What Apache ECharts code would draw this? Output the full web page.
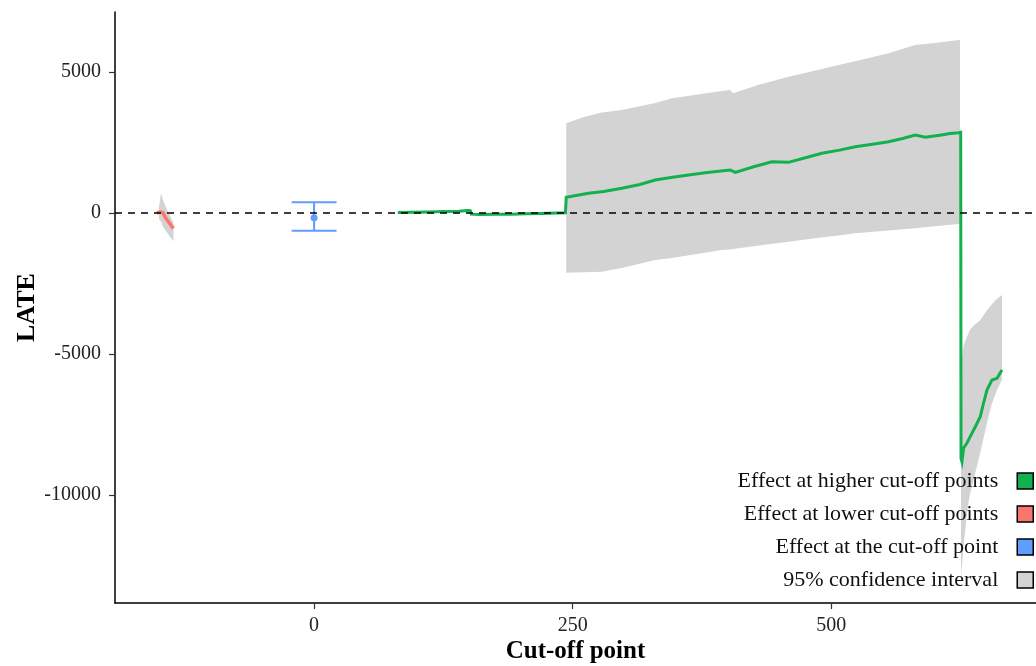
<!DOCTYPE html>
<html>
<head>
<meta charset="utf-8">
<script src="https://cdn.jsdelivr.net/npm/echarts@6/dist/echarts.min.js"></script>
<style>
html,body{margin:0;padding:0;background:#fff;}
#chart{width:1036px;height:666px;}
</style>
</head>
<body>
<div id="chart"></div>
<script>
// ---- Data ----
var xTicks = [0, 250, 500];
var yTicks = [5000, 0, -5000, -10000];

// Effect at higher cut-off points: [cut-off, LATE]
var higherEffect = [
  [81, 20], [95, 25], [110, 40], [125, 50], [140, 60], [148, 90], [151, 80],
  [152, -40], [160, -50], [175, -40], [190, -45], [205, -30], [220, -20], [235, 0], [243, 10],
  [243.8, 556], [265.3, 698], [280, 760], [297.6, 876], [315, 1010], [329.8, 1170], [345, 1260],
  [362, 1348], [380, 1440], [402.3, 1525], [407.2, 1443], [425, 1640], [442.6, 1819],
  [458.7, 1797], [475, 1960], [491, 2117], [508, 2230], [523.2, 2351], [540, 2440],
  [555.4, 2528], [570, 2650], [581.2, 2766], [590.9, 2684], [605, 2760], [615, 2820],
  [623.1, 2848], [625.2, 2860],
  [625.5, -8700], [626.4, -8820], [628, -8333], [631.3, -8156], [634.4, -7930],
  [639.3, -7578], [644.1, -7223], [647.3, -6738], [650.6, -6277], [655.4, -5922],
  [660.3, -5862], [665.1, -5567]
];

// Confidence interval for higher cut-off points, before the drop: [cut-off, lower, upper]
var higherCI1 = [
  [243.8, -2116, 3181], [260, -2100, 3400], [278.2, -2080, 3560], [297.6, -1950, 3652],
  [329.8, -1667, 3900], [345.9, -1600, 4067], [394.3, -1312, 4330], [402.3, -1290, 4362],
  [405.2, -1280, 4245], [430, -1150, 4550], [458.7, -1017, 4833], [490, -870, 5100],
  [507.1, -800, 5248], [523.2, -720, 5380], [555.4, -620, 5663], [581.2, -543, 5957],
  [600, -470, 6030], [623.1, -390, 6135], [624.5, -380, 6150]
];
// Confidence interval for higher cut-off points, after the drop
var higherCI2 = [
  [625.5, -12900, -5400], [628, -11800, -4700], [631.2, -10640, -4400], [634, -10000, -4149],
  [637.6, -9470, -4000], [644, -8510, -3800], [650.6, -7447, -3450], [655, -6800, -3250],
  [660, -6300, -3050], [665.1, -5900, -2908]
];

// Effect at lower cut-off points
var lowerEffect = [
  [-152, 0], [-149, 40], [-146, 0], [-144, -150], [-141, -300], [-138, -450], [-136, -550]
];
var lowerCI = [
  [-150, -200, 200], [-148, -300, 700], [-146, -500, 450], [-142, -700, 100],
  [-138, -900, -200], [-136, -1000, -350]
];

// Effect at the cut-off point: [cut-off, estimate, lower, upper, cap half-width]
var atCutoff = [[0, -165, -630, 380, 21.7]];

var COL_HIGH = '#13b04f';
var COL_LOW = '#f8766d';
var COL_AT = '#619cff';
var COL_CI = '#d3d3d3';
var FONT = '"Liberation Serif", "DejaVu Serif", serif';

function bandRenderer(arr) {
  return function (params, api) {
    if (params.dataIndex !== 0) return null;
    var pts = [];
    for (var i = 0; i < arr.length; i++) pts.push(api.coord([arr[i][0], arr[i][2]]));
    for (var j = arr.length - 1; j >= 0; j--) pts.push(api.coord([arr[j][0], arr[j][1]]));
    return {
      type: 'polygon',
      shape: { points: pts },
      style: { fill: COL_CI, stroke: null }
    };
  };
}

var chart = echarts.init(document.getElementById('chart'), null, { renderer: 'canvas' });

var option = {
  animation: false,
  backgroundColor: '#fff',
  textStyle: { fontFamily: FONT },
  grid: { left: 115, right: 0, top: 12, bottom: 63, containLabel: false, outerBoundsMode: 'none' },
  xAxis: {
    type: 'value',
    min: -192.5,
    max: 698,
    name: 'Cut-off point',
    nameLocation: 'middle',
    nameGap: 36,
    nameMoveOverlap: false,
    nameTextStyle: { fontFamily: FONT, fontSize: 25, fontWeight: 'bold', color: '#000' },
    splitLine: { show: false },
    axisLine: { show: true, onZero: false, lineStyle: { color: '#000', width: 1.5 } },
    axisTick: { show: true, length: 6, customValues: xTicks, lineStyle: { color: '#333', width: 1.2 } },
    axisLabel: { customValues: xTicks, margin: 13, fontFamily: FONT, fontSize: 20, color: '#222',
      formatter: function (v) { return String(v); } }
  },
  yAxis: {
    type: 'value',
    min: -13830,
    max: 7128,
    name: 'LATE',
    nameLocation: 'middle',
    nameGap: 75,
    nameMoveOverlap: false,
    nameTextStyle: { fontFamily: FONT, fontSize: 26, fontWeight: 'bold', color: '#000' },
    splitLine: { show: false },
    axisLine: { show: true, onZero: false, lineStyle: { color: '#000', width: 1.5 } },
    axisTick: { show: true, length: 6, customValues: yTicks, lineStyle: { color: '#333', width: 1.2 } },
    axisLabel: { customValues: yTicks, margin: 14, fontFamily: FONT, fontSize: 20, color: '#222',
      formatter: function (v) { return String(v); } }
  },
  legend: {
    orient: 'vertical',
    right: 2,
    top: 470,
    padding: 0,
    align: 'right',
    itemWidth: 16,
    itemHeight: 16,
    itemGap: 11,
    textStyle: { fontFamily: FONT, fontSize: 22, color: '#111', padding: [0, 14, 0, 0] },
    data: [
      { name: 'Effect at higher cut-off points', icon: 'rect', itemStyle: { color: COL_HIGH, borderColor: '#000', borderWidth: 1.5 } },
      { name: 'Effect at lower cut-off points', icon: 'rect', itemStyle: { color: COL_LOW, borderColor: '#000', borderWidth: 1.5 } },
      { name: 'Effect at the cut-off point', icon: 'rect', itemStyle: { color: COL_AT, borderColor: '#000', borderWidth: 1.5 } },
      { name: '95% confidence interval', icon: 'rect', itemStyle: { color: COL_CI, borderColor: '#000', borderWidth: 1.5 } }
    ]
  },
  series: [
    {
      name: '95% confidence interval', type: 'custom', z: 1,
      renderItem: bandRenderer(higherCI1),
      data: higherCI1.map(function (d) { return [d[0], d[1]]; }),
      itemStyle: { color: COL_CI }, silent: true
    },
    {
      name: '95% confidence interval', type: 'custom', z: 1,
      renderItem: bandRenderer(higherCI2),
      data: higherCI2.map(function (d) { return [d[0], d[1]]; }),
      itemStyle: { color: COL_CI }, silent: true
    },
    {
      name: '95% confidence interval', type: 'custom', z: 1,
      renderItem: bandRenderer(lowerCI),
      data: lowerCI.map(function (d) { return [d[0], d[1]]; }),
      itemStyle: { color: COL_CI }, silent: true
    },
    {
      name: 'Effect at lower cut-off points', type: 'line', z: 3,
      data: lowerEffect, showSymbol: false, symbol: 'none',
      lineStyle: { color: COL_LOW, width: 3.5 }, itemStyle: { color: COL_LOW }
    },
    {
      name: 'Effect at the cut-off point', type: 'custom', z: 3,
      itemStyle: { color: COL_AT },
      data: atCutoff,
      renderItem: function (params, api) {
        var x = api.value(0), y = api.value(1), lo = api.value(2), hi = api.value(3), w = api.value(4);
        var pTop = api.coord([x, hi]), pBot = api.coord([x, lo]), pC = api.coord([x, y]);
        var tl = api.coord([x - w, hi]), tr = api.coord([x + w, hi]);
        var bl = api.coord([x - w, lo]), br = api.coord([x + w, lo]);
        var ls = { stroke: COL_AT, lineWidth: 2 };
        return {
          type: 'group',
          children: [
            { type: 'line', shape: { x1: pTop[0], y1: pTop[1], x2: pBot[0], y2: pBot[1] }, style: ls },
            { type: 'line', shape: { x1: tl[0], y1: tl[1], x2: tr[0], y2: tr[1] }, style: ls },
            { type: 'line', shape: { x1: bl[0], y1: bl[1], x2: br[0], y2: br[1] }, style: ls },
            { type: 'circle', shape: { cx: pC[0], cy: pC[1], r: 3.5 }, style: { fill: COL_AT } }
          ]
        };
      }
    },
    {
      name: 'Effect at higher cut-off points', type: 'line', z: 3,
      data: higherEffect, showSymbol: false, symbol: 'none',
      lineStyle: { color: COL_HIGH, width: 3, join: 'miter' }, itemStyle: { color: COL_HIGH }
    },
    {
      name: 'zero', type: 'line', z: 10, data: [], silent: true,
      markLine: {
        silent: true, symbol: ['none', 'none'], animation: false,
        label: { show: false },
        lineStyle: { color: '#000', type: [7, 6], width: 1.6 },
        data: [{ yAxis: 0 }]
      }
    }
  ]
};
chart.setOption(option);
</script>
</body>
</html>
